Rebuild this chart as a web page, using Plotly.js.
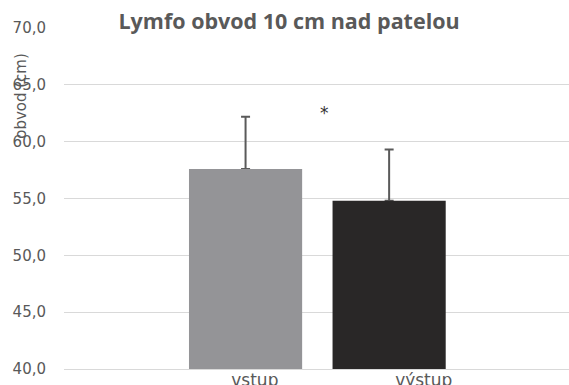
<!DOCTYPE html>
<html>
<head>
<meta charset="utf-8">
<script src="https://cdn.plot.ly/plotly-3.0.1.min.js"></script>
<style>html,body{margin:0;padding:0;background:#fff;}#chart{width:569px;height:385px;}</style>
</head>
<body>
<div id="chart"></div>
<script>
const categories = ["vstup", "výstup"];
const values = [57.6, 54.8];
const errors = [4.6, 4.5];
const barColors = ["#949497", "#292727"];
const yTicks = [40, 45, 50, 55, 60, 65, 70];
const chartTitle = "Lymfo obvod 10 cm nad patelou";
const yTitle = "obvod (cm)";
const sigMark = "*";

const barWidth = [0.67, 0.67];
const barOffset = [-0.39, -0.54];

const errTrace = {
  type: "bar",
  x: categories,
  y: values,
  width: barWidth,
  offset: barOffset,
  marker: {color: "rgba(0,0,0,0)", line: {width: 0}},
  error_y: {type: "data", array: errors, symmetric: false, arrayminus: [0, 0],
            color: "#5a5a5a", thickness: 2, width: 4.5},
  hoverinfo: "none"
};
const barTrace = {
  type: "bar",
  x: categories,
  y: values,
  width: barWidth,
  offset: barOffset,
  marker: {color: barColors, line: {width: 0}},
  hoverinfo: "none"
};

const layout = {
  width: 569, height: 385,
  margin: {l: 64, r: 0, t: 28, b: 16},
  paper_bgcolor: "#ffffff",
  plot_bgcolor: "#ffffff",
  separators: ", ",
  barmode: "overlay",
  showlegend: false,
  title: {text: "<b>" + chartTitle + "</b>", x: 0.508, xanchor: "center", y: 0.943, yanchor: "middle",
          font: {family: "Open Sans", size: 21.5, color: "#595959"}},
  xaxis: {
    type: "category",
    range: [-1.13, 1.86],
    showgrid: false,
    zeroline: false,
    showline: true, linecolor: "#d9d9d9", linewidth: 1,
    ticks: "",
    ticklabelstandoff: -4,
    tickfont: {family: "DejaVu Sans", size: 17, color: "#595959"},
    fixedrange: true
  },
  yaxis: {
    range: [40, 70],
    tickvals: yTicks,
    tickformat: ".1f",
    showgrid: true, gridcolor: "#d9d9d9", gridwidth: 1,
    zeroline: false,
    showline: false,
    ticks: "",
    ticklabelstandoff: 17,
    tickfont: {family: "DejaVu Sans", size: 15, color: "#595959"},
    fixedrange: true
  },
  annotations: [
    {text: yTitle, xref: "paper", yref: "paper", x: -0.084, y: 0.80, textangle: -90,
     showarrow: false, xanchor: "center", yanchor: "middle",
     font: {family: "DejaVu Sans", size: 15, color: "#595959"}},
    {text: sigMark, xref: "x", yref: "y", x: 0.414, y: 62.5, showarrow: false,
     xanchor: "center", yanchor: "middle",
     font: {family: "DejaVu Sans", size: 17, color: "#333333"}}
  ]
};

Plotly.newPlot("chart", [errTrace, barTrace], layout, {displayModeBar: false, staticPlot: true});
</script>
</body>
</html>
